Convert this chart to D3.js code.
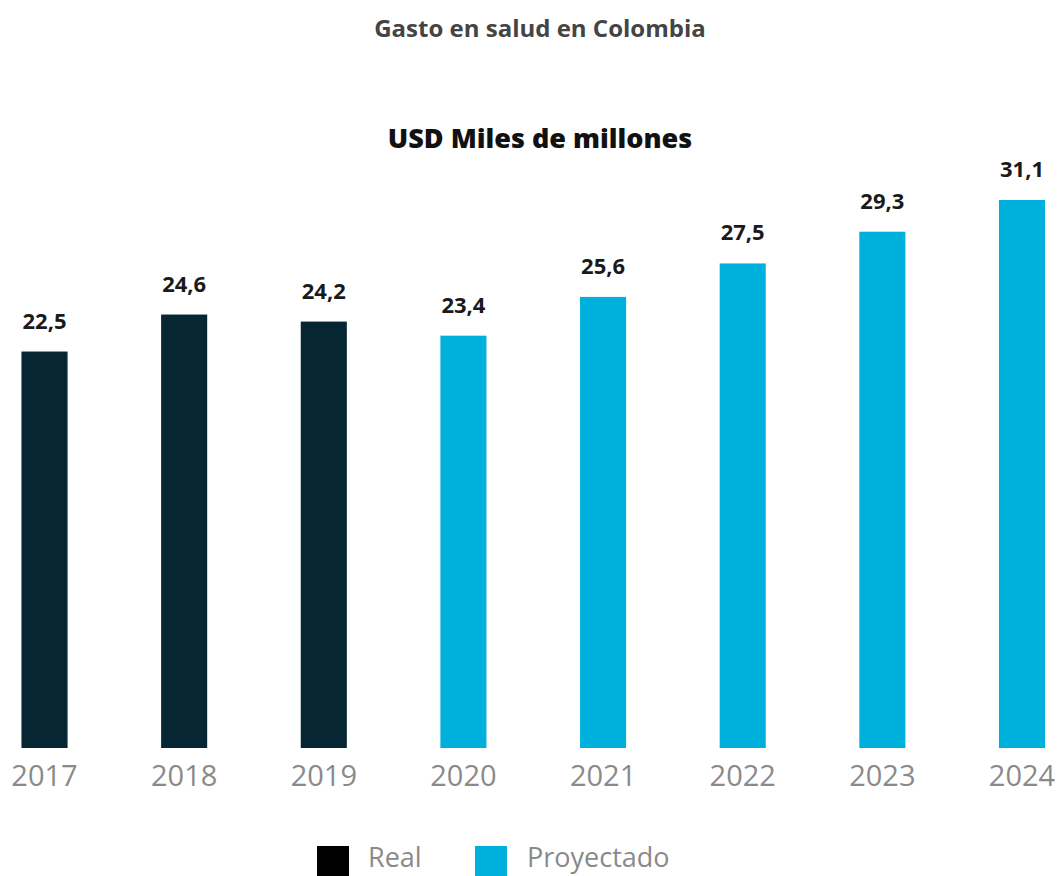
<!DOCTYPE html>
<html><head><meta charset="utf-8">
<script src="https://cdn.jsdelivr.net/npm/d3@7"></script>
<style>body{margin:0;background:#fff;}svg{display:block;}</style>
</head><body>
<svg id="c" width="1058" height="876"></svg>
<script>
const years = ["2017","2018","2019","2020","2021","2022","2023","2024"];
const values = [22.5,24.6,24.2,23.4,25.6,27.5,29.3,31.1];
const types = ["Real","Real","Real","Proyectado","Proyectado","Proyectado","Proyectado","Proyectado"];
const legendItems = ["Real","Proyectado"];
const title = "Gasto en salud en Colombia";
const subtitle = "USD Miles de millones";

const svg = d3.select("#c");
const font = "'Open Sans', sans-serif";
const barColor = d3.scaleOrdinal().domain(legendItems).range(["#062633","#00b0dc"]);
const legendColor = d3.scaleOrdinal().domain(legendItems).range(["#000000","#00b0dc"]);

const x = d3.scaleBand().domain(years).range([-25.3, 1091.8]).paddingInner(0.67).paddingOuter(0.335);
const y = d3.scaleLinear().domain([0, 31.1]).range([748, 200]);

svg.append("text").attr("x",540).attr("y",37).attr("text-anchor","middle")
  .attr("font-family",font).attr("font-weight",700).attr("font-size",24).attr("fill","#444").text(title);
svg.append("text").attr("x",540).attr("y",148).attr("text-anchor","middle")
  .attr("font-family",font).attr("font-weight",800).attr("font-size",27).attr("fill","#111").text(subtitle);

const data = years.map((yr,i)=>({yr, v: values[i], t: types[i]}));

svg.selectAll("rect.bar").data(data).join("rect").attr("class","bar")
  .attr("x",d=>x(d.yr)).attr("width",x.bandwidth())
  .attr("y",d=>y(d.v)).attr("height",d=>y(0)-y(d.v))
  .attr("fill",d=>barColor(d.t));

svg.selectAll("text.val").data(data).join("text").attr("class","val")
  .attr("x",d=>x(d.yr)+x.bandwidth()/2).attr("y",d=>y(d.v)-23)
  .attr("text-anchor","middle").attr("font-family",font).attr("font-weight",700)
  .attr("font-size",22).attr("fill","#1a1a1a")
  .text(d=>d3.format(".1f")(d.v).replace(".",","));

const xAxis = svg.append("g").attr("transform",`translate(0,${y(0)})`)
  .call(d3.axisBottom(x).tickSize(0).tickPadding(17));
xAxis.select(".domain").remove();
xAxis.selectAll("text").attr("font-family",font).attr("font-size",29).attr("fill","#8a8a8a");

const lx = [317, 475];
const lg = svg.selectAll("g.leg").data(legendItems).join("g").attr("class","leg")
  .attr("transform",(d,i)=>`translate(${lx[i]},846)`);
lg.append("rect").attr("width",32).attr("height",30).attr("fill",d=>legendColor(d));
lg.append("text").attr("x",(d,i)=>i===0?51:52).attr("y",21).attr("font-family",font)
  .attr("font-size",27).attr("fill","#8a8a8a").text(d=>d);
</script>
</body></html>
